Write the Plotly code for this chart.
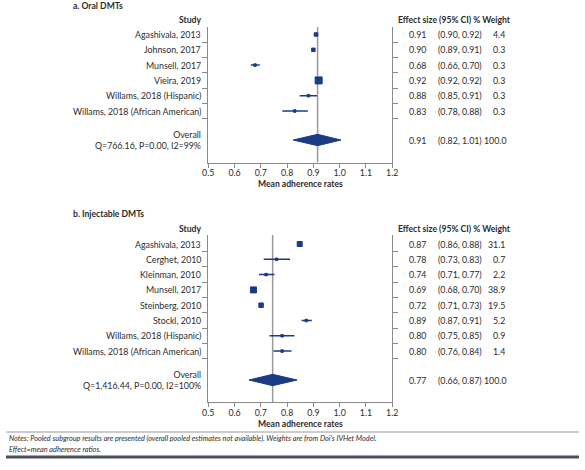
import plotly.graph_objects as go

W, H = 585, 470
BLUE = "#1b3b87"
TXT = "#2b2b2b"
AXC = "#8a8a8a"
FONT = "Lato"
FS = 8.8
FSB = 8.6

# ---------------- data: panel a (oral) ----------------
a_studies = ["Agashivala, 2013", "Johnson, 2017", "Munsell, 2017", "Vieira, 2019",
             "Willams, 2018 (Hispanic)", "Willams, 2018 (African American)"]
a_est = [0.910, 0.900, 0.678, 0.920, 0.881, 0.829]
a_lo = [0.902, 0.897, 0.662, 0.918, 0.848, 0.782]
a_hi = [0.918, 0.903, 0.696, 0.922, 0.914, 0.879]
a_size = [3.5, 3.5, 2.5, 7, 2.5, 2.5]
a_eff_txt = ["0.91", "0.90", "0.68", "0.92", "0.88", "0.83"]
a_ci_txt = ["(0.90, 0.92)", "(0.89, 0.91)", "(0.66, 0.70)", "(0.92, 0.92)", "(0.85, 0.91)", "(0.78, 0.88)"]
a_wt_txt = ["4.4", "0.3", "0.3", "0.3", "0.3", "0.3"]
a_overall = [0.916, 0.823, 1.005]  # est, lo, hi (as drawn)
a_overall_txt = ["0.91", "(0.82, 1.01)", "100.0"]
a_stats = "Q=766.16, P=0.00, I2=99%"

# ---------------- data: panel b (injectable) ----------------
b_studies = ["Agashivala, 2013", "Cerghet, 2010", "Kleinman, 2010", "Munsell, 2017",
             "Steinberg, 2010", "Stockl, 2010", "Willams, 2018 (Hispanic)",
             "Willams, 2018 (African American)"]
b_est = [0.848, 0.760, 0.720, 0.672, 0.701, 0.873, 0.781, 0.781]
b_lo = [0.846, 0.711, 0.693, 0.670, 0.699, 0.855, 0.733, 0.748]
b_hi = [0.850, 0.811, 0.752, 0.674, 0.703, 0.894, 0.828, 0.817]
b_size = [5, 2.5, 2.5, 6, 4.5, 2.5, 2.5, 2.5]
b_eff_txt = ["0.87", "0.78", "0.74", "0.69", "0.72", "0.89", "0.80", "0.80"]
b_ci_txt = ["(0.86, 0.88)", "(0.73, 0.83)", "(0.71, 0.77)", "(0.68, 0.70)",
            "(0.71, 0.73)", "(0.87, 0.91)", "(0.75, 0.85)", "(0.76, 0.84)"]
b_wt_txt = ["31.1", "0.7", "2.2", "38.9", "19.5", "5.2", "0.9", "1.4"]
b_overall = [0.745, 0.655, 0.838]
b_overall_txt = ["0.77", "(0.66, 0.87)", "100.0"]
b_stats = "Q=1,416.44, P=0.00, I2=100%"

x_ticks = [0.5, 0.6, 0.7, 0.8, 0.9, 1.0, 1.1, 1.2]
x_ticklabels = ["0.5", "0.6", "0.7", "0.8", "0.9", "1.0", "1.1", "1.2"]

ROW = 15.3  # px per row


def px(x):
    return x / W


def py(y):
    return 1 - y / H


def font(size=FS, color=TXT):
    return dict(family=FONT, size=size, color=color)


fig = go.Figure()
annotations = []
shapes = []

panels = [
    dict(title="a. Oral DMTs", title_y=6, head_y=20, top=27, row0=34.5, bottom=162.5, overall_y=140,
         studies=a_studies, est=a_est, lo=a_lo, hi=a_hi, size=a_size, eff=a_eff_txt, ci=a_ci_txt,
         wt=a_wt_txt, ov=a_overall, ovt=a_overall_txt, stats=a_stats, xa="x", ya="y"),
    dict(title="b. Injectable DMTs", title_y=214, head_y=229, top=235, row0=244, bottom=402.3, overall_y=380,
         studies=b_studies, est=b_est, lo=b_lo, hi=b_hi, size=b_size, eff=b_eff_txt, ci=b_ci_txt,
         wt=b_wt_txt, ov=b_overall, ovt=b_overall_txt, stats=b_stats, xa="x2", ya="y2"),
]

X_L, X_R = 206.5, 394.3
X_LAB = 201.5
X_EFF = 431
X_CI = 439.5
X_WT = 511.5

for i, p in enumerate(panels):
    n = len(p["studies"])
    ys = [-k for k in range(n)]
    yov = -(p["overall_y"] - p["row0"]) / ROW
    ytop = (p["row0"] - p["top"]) / ROW
    ybot = -(p["bottom"] - p["row0"]) / ROW
    sfx = "" if i == 0 else "2"

    # study markers with CI whiskers
    fig.add_trace(go.Scatter(
        x=p["est"], y=ys, mode="markers", xaxis=p["xa"], yaxis=p["ya"],
        marker=dict(symbol="square", size=p["size"], color=BLUE, opacity=1,
                    line=dict(width=1, color=BLUE)),
        error_x=dict(type="data", symmetric=False,
                     array=[h - e for h, e in zip(p["hi"], p["est"])],
                     arrayminus=[e - l for e, l in zip(p["est"], p["lo"])],
                     thickness=1.5, width=0, color=BLUE),
        showlegend=False, hoverinfo="skip"))

    # overall diamond
    est, lo, hi = p["ov"]
    hh = 0.37
    fig.add_trace(go.Scatter(
        x=[lo, est, hi, est, lo], y=[yov, yov + hh, yov, yov - hh, yov],
        mode="lines", fill="toself", fillcolor=BLUE, line=dict(color=BLUE, width=1),
        xaxis=p["xa"], yaxis=p["ya"], showlegend=False, hoverinfo="skip"))

    # reference line
    shapes.append(dict(type="line", xref=p["xa"], yref=f"y{sfx} domain", x0=est, x1=est, y0=0, y1=1,
                       line=dict(color="#9a9a9a", width=1.5), layer="below"))

    fig.layout[f"xaxis{sfx}"] = dict(
        domain=[px(X_L), px(X_R)], anchor=p["ya"], range=[0.5, 1.2], showline=True, linecolor=AXC,
        linewidth=1, ticks="outside", ticklen=4, tickcolor=AXC, tickvals=x_ticks, ticktext=x_ticklabels,
        ticklabelstandoff=-2,
        showgrid=False, zeroline=False, tickfont=font(), fixedrange=True)
    fig.layout[f"yaxis{sfx}"] = dict(
        domain=[py(p["bottom"]), py(p["top"])], anchor=p["xa"], range=[ybot, ytop], showline=True,
        mirror="ticks", linecolor=AXC, linewidth=1, ticks="outside", ticklen=5, tickcolor=AXC,
        tickvals=[-k - 0.5 for k in range(n)], showticklabels=False, showgrid=False, zeroline=False,
        fixedrange=True)

    # titles / headers
    annotations.append(dict(text="<b>" + p["title"] + "</b>", xref="paper", yref="paper",
                            x=px(66), y=py(p["title_y"]), xanchor="left", yanchor="middle",
                            showarrow=False, font=font(FSB)))
    annotations.append(dict(text="<b>Study</b>", xref="paper", yref="paper", x=px(X_LAB), y=py(p["head_y"]),
                            xanchor="right", yanchor="middle", showarrow=False, font=font(FSB)))
    annotations.append(dict(text="<b>Effect size (95% CI) % Weight</b>", xref="paper", yref="paper",
                            x=px(458), y=py(p["head_y"]), xanchor="center", yanchor="middle",
                            showarrow=False, font=font(FSB)))
    annotations.append(dict(text="<b>Mean adherence rates</b>", xref="paper", yref="paper",
                            x=px((X_L + X_R) / 2), y=py(p["bottom"] + 22), xanchor="center",
                            yanchor="middle", showarrow=False, font=font(FSB)))

    yref = p["ya"]
    for k in range(n):
        annotations.append(dict(text=p["studies"][k], xref="paper", yref=yref, x=px(X_LAB), y=ys[k],
                                xanchor="right", yanchor="middle", showarrow=False, font=font()))
        annotations.append(dict(text=p["eff"][k], xref="paper", yref=yref, x=px(X_EFF), y=ys[k],
                                xanchor="right", yanchor="middle", showarrow=False, font=font()))
        annotations.append(dict(text=p["ci"][k], xref="paper", yref=yref, x=px(X_CI), y=ys[k],
                                xanchor="left", yanchor="middle", showarrow=False, font=font()))
        annotations.append(dict(text=p["wt"][k], xref="paper", yref=yref, x=px(X_WT), y=ys[k],
                                xanchor="right", yanchor="middle", showarrow=False, font=font()))
    # overall rows
    annotations.append(dict(text="Overall<br>" + p["stats"], xref="paper", yref=yref, x=px(X_LAB), y=yov,
                            xanchor="right", yanchor="middle", align="right", showarrow=False, font=font()))
    annotations.append(dict(text=p["ovt"][0], xref="paper", yref=yref, x=px(X_EFF), y=yov,
                            xanchor="right", yanchor="middle", showarrow=False, font=font()))
    annotations.append(dict(text=p["ovt"][1], xref="paper", yref=yref, x=px(X_CI), y=yov,
                            xanchor="left", yanchor="middle", showarrow=False, font=font()))
    annotations.append(dict(text=p["ovt"][2], xref="paper", yref=yref, x=px(X_WT + 1), y=yov,
                            xanchor="right", yanchor="middle", showarrow=False, font=font()))

# notes
annotations.append(dict(text="<i>Notes: Pooled subgroup results are presented (overall pooled estimates not available). "
                             "Weights are from Doi's IVHet Model.</i>",
                        xref="paper", yref="paper", x=px(1), y=py(438.5), xanchor="left", yanchor="middle",
                        showarrow=False, font=font(7.3)))
annotations.append(dict(text="<i>Effect=mean adherence ratios.</i>",
                        xref="paper", yref="paper", x=px(1), y=py(449.5), xanchor="left", yanchor="middle",
                        showarrow=False, font=font(7.3)))

shapes.append(dict(type="line", xref="paper", yref="paper", x0=0, x1=1, y0=py(432), y1=py(432),
                   line=dict(color="#9a9a9a", width=1)))
shapes.append(dict(type="line", xref="paper", yref="paper", x0=0, x1=1, y0=py(457), y1=py(457),
                   line=dict(color="#4a4f5a", width=3)))

fig.update_layout(width=W, height=H, margin=dict(l=0, r=0, t=0, b=0), paper_bgcolor="white",
                  plot_bgcolor="white", annotations=annotations, shapes=shapes, showlegend=False)

fig.write_html("out.html", config={"displayModeBar": False},
               post_script="document.body.style.margin='0';document.body.style.overflow='hidden';")
